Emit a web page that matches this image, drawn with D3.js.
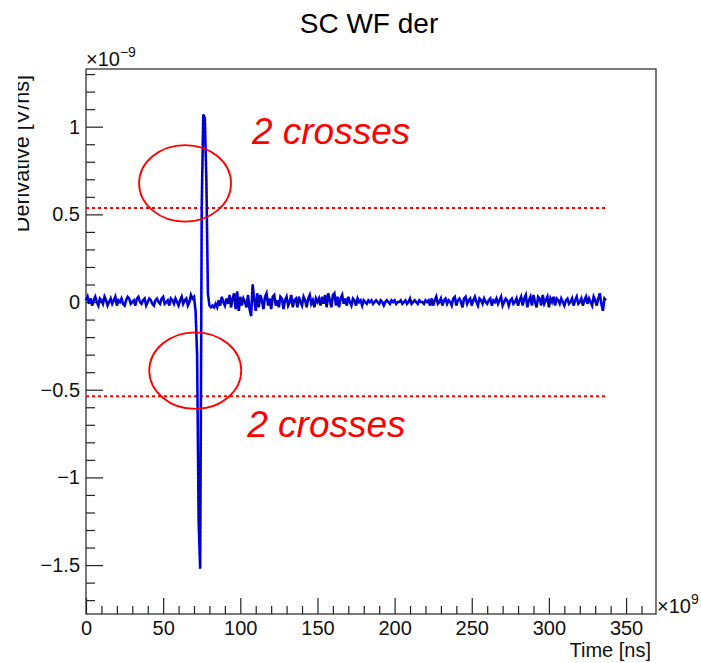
<!DOCTYPE html>
<html>
<head>
<meta charset="utf-8">
<script src="https://cdn.jsdelivr.net/npm/d3@7/dist/d3.min.js"></script>
<style>
  html, body { margin: 0; padding: 0; background: #fff; }
  svg { display: block; }
  text { font-family: "Liberation Sans", Arial, Helvetica, sans-serif; }
</style>
</head>
<body>
<svg id="chart" width="701" height="663"></svg>
<script>
// Derivative of the SC waveform, sampled every 1 ns, in units of 1e-9 V/ns.
const sampleStepNs = 1;

// baseline before the pulse (t = 0 .. 71 ns)
const preNoise = [
  0.01, 0.03, -0.01, 0.02, -0.02, 0.01, 0.03, 0.00, -0.02, 0.02,
  0.01, -0.01, 0.03, 0.01, -0.02, 0.00, 0.02, -0.01, 0.01, 0.03,
  -0.02, 0.01, 0.00, 0.02, -0.01, -0.02, 0.01, 0.03, 0.02, -0.01,
  0.00, 0.01, -0.02, 0.02, 0.03, 0.00, -0.01, 0.01, 0.02, -0.02,
  0.00, 0.02, 0.01, -0.01, -0.02, 0.01, 0.02, 0.00, -0.01, 0.02,
  0.03, -0.01, 0.00, 0.01, -0.02, 0.02, 0.01, -0.01, 0.02, 0.00,
  -0.02, 0.01, 0.03, -0.01, 0.01, 0.02, -0.02, 0.00, 0.04, 0.02,
  0.03, -0.05
];

// the pulse edge (t = 72 .. 78 ns)
const pulse = [-0.30, -1.25, -1.52, 0.54, 1.07, 1.05, 0.70];

// ringing and baseline after the pulse (t = 79 .. 337 ns)
const postNoise = [
  0.05, -0.02, -0.03, -0.02, -0.03, -0.01, -0.03, 0.01, -0.02, 0.03,
  0.00, -0.02, 0.02, -0.01, 0.04, -0.03, 0.02, 0.05, -0.04, 0.06,
  -0.05, 0.03, -0.02, 0.02, 0.00, -0.03, 0.04, -0.04, -0.08, 0.10,
  0.02, -0.05, 0.05, -0.03, 0.04, 0.01, -0.04, 0.03, 0.05, -0.02,
  0.02, -0.04, 0.03, 0.04, -0.02, 0.01, -0.03, 0.03, 0.02, -0.04,
  0.01, 0.03, -0.02, 0.00, 0.04, -0.03, 0.01, 0.02, -0.03, 0.03,
  0.00, -0.02, 0.03, 0.01, -0.03, 0.02, 0.04, -0.01, 0.01, -0.03,
  0.02, 0.00,
  0.02, -0.02, 0.03, -0.01, 0.04, -0.03, 0.05, 0.01, -0.03, 0.04,
  0.05, -0.02, 0.03, -0.03, 0.02, 0.04, -0.01, 0.02, -0.02, 0.03,
  0.00, -0.02, 0.02, 0.01, -0.02, 0.02, 0.00, 0.01, -0.02, 0.01,
  0.00, -0.01, 0.01, 0.00,
  0.01, -0.01, 0.00, 0.01, 0.00, -0.01, 0.01, 0.00, -0.02, 0.00,
  0.01, 0.00, -0.01, 0.01, 0.00, 0.01, -0.01, 0.00, 0.00, 0.01,
  -0.01, 0.00, 0.01, -0.01, 0.00, 0.02, -0.01, 0.00, 0.01, 0.00,
  -0.01, 0.01, 0.00, 0.00, -0.01, 0.01, 0.00, 0.01, -0.02,
  0.02, -0.02, 0.01, 0.03, -0.01, 0.00, 0.02, -0.02, 0.01, 0.02,
  -0.01, 0.01, 0.00, -0.02, 0.02, 0.03, -0.02, 0.01, 0.02, 0.00,
  -0.03, 0.02, 0.03, -0.01, 0.01, 0.02, -0.02, 0.01, 0.03, 0.00,
  -0.02, 0.02, 0.01, -0.01, 0.02, 0.00, -0.01, 0.01, 0.02, -0.02,
  0.01, 0.00, 0.02, -0.01, 0.01, 0.03, -0.02, 0.00, 0.02, 0.01,
  -0.02, 0.01, 0.02, -0.01, 0.00, 0.02, -0.02, 0.01,
  0.03, -0.02, 0.02, 0.04, -0.03, 0.01, 0.03, -0.02, 0.04, 0.00,
  -0.03, 0.03, 0.02, -0.02, 0.04, -0.01, 0.01, 0.03, -0.03, 0.02,
  0.00, 0.03, -0.02, 0.02, 0.01, -0.01, 0.02, 0.00, -0.02, 0.01,
  0.02, -0.01, 0.00, 0.02, -0.02, 0.01, 0.03, -0.01, 0.00,
  0.02, -0.02, 0.01, 0.03, -0.01, 0.02, 0.00, -0.02, 0.03, 0.01,
  -0.02, 0.02, 0.05, -0.01, -0.05, 0.02, 0.01
];

// discriminator thresholds (1e-9 V/ns)
const thresholds = [0.537, -0.537];

// axis ticks
const xMajorTicks = [0, 50, 100, 150, 200, 250, 300, 350];
const yMajorTicks = [-1.5, -1, -0.5, 0, 0.5, 1];

// annotations: where the thresholds are crossed
const crossMarks = [
  { t: 64.2, v: 0.677, label: "2 crosses", labelT: 107.5, labelV: 0.90 },
  { t: 70.8, v: -0.391, label: "2 crosses", labelT: 104.5, labelV: -0.77 }
];

const samples = preNoise.concat(pulse, postNoise)
  .map((v, i) => ({ t: i * sampleStepNs, v }));

const frame = { left: 86, top: 69, right: 656, bottom: 614 };

const svg = d3.select("#chart");

const x = d3.scaleLinear().domain([0, 369.4]).range([frame.left, frame.right]);
const y = d3.scaleLinear().domain([-1.779, 1.329]).range([frame.bottom, frame.top]);

const xMinor = d3.range(0, 370, 10).filter(v => v % 50 !== 0);
const yMinor = d3.range(-17, 14).map(k => k / 10).filter(v => Math.abs(Math.round(v * 10) % 5) !== 0);

const fmt = v => (v < 0 ? "\u2212" : "") + Math.abs(v);

// x axis (ticks point into the frame)
const gx = svg.append("g").attr("transform", `translate(0,${frame.bottom})`);
gx.call(d3.axisBottom(x).tickValues(xMajorTicks).tickSize(-16).tickPadding(7).tickFormat(fmt));
gx.append("g").call(d3.axisBottom(x).tickValues(xMinor).tickSize(-8).tickFormat(""));
gx.selectAll(".domain").remove();

const gy = svg.append("g").attr("transform", `translate(${frame.left},0)`);
gy.call(d3.axisLeft(y).tickValues(yMajorTicks).tickSize(-17).tickPadding(6).tickFormat(fmt));
gy.append("g").call(d3.axisLeft(y).tickValues(yMinor).tickSize(-9).tickFormat(""));
gy.selectAll(".domain").remove();

svg.selectAll(".tick line").attr("stroke", "#222").attr("stroke-width", 1.2);
svg.selectAll(".tick text")
  .attr("fill", "#111")
  .style("font-size", "20px")
  .style("font-family", "'Liberation Sans', Arial, sans-serif");

// frame
svg.append("rect")
  .attr("x", frame.left).attr("y", frame.top)
  .attr("width", frame.right - frame.left).attr("height", frame.bottom - frame.top)
  .attr("fill", "none").attr("stroke", "#222").attr("stroke-width", 1.2);

// threshold lines over the sampled range
const tEnd = samples[samples.length - 1].t;
svg.selectAll(".thr").data(thresholds).join("line")
  .attr("class", "thr")
  .attr("x1", x(0)).attr("x2", x(tEnd))
  .attr("y1", d => y(d)).attr("y2", d => y(d))
  .attr("stroke", "#ff0000").attr("stroke-width", 2)
  .attr("stroke-dasharray", "3,3");

// waveform: thick blue trace with a fine dark dotted core
const line = d3.line().x(d => x(d.t)).y(d => y(d.v));
svg.append("path").datum(samples)
  .attr("d", line)
  .attr("fill", "none")
  .attr("stroke", "#0000ff")
  .attr("stroke-width", 2.6)
  .attr("stroke-linejoin", "miter");

svg.append("path").datum(samples)
  .attr("d", line)
  .attr("fill", "none")
  .attr("stroke", "#000")
  .attr("stroke-width", 1)
  .attr("stroke-dasharray", "1.5,2.5");

// crossing annotations
svg.selectAll(".mark").data(crossMarks).join("ellipse")
  .attr("class", "mark")
  .attr("cx", d => x(d.t)).attr("cy", d => y(d.v))
  .attr("rx", 46).attr("ry", 38.3)
  .attr("fill", "none").attr("stroke", "#ff0000").attr("stroke-width", 1.8);

svg.selectAll(".marklabel").data(crossMarks).join("text")
  .attr("class", "marklabel")
  .attr("x", d => x(d.labelT)).attr("y", d => y(d.labelV))
  .attr("fill", "#ff0000")
  .style("font-size", "37px").style("font-style", "italic")
  .text(d => d.label);

// title
svg.append("text")
  .attr("x", 369).attr("y", 33).attr("text-anchor", "middle")
  .style("font-size", "28px").attr("fill", "#000")
  .text("SC WF der");

// axis titles
svg.append("text")
  .attr("x", 651).attr("y", 657).attr("text-anchor", "end")
  .style("font-size", "20px").attr("fill", "#111")
  .text("Time [ns]");

svg.append("defs").append("clipPath").attr("id", "ytitle-clip")
  .append("rect").attr("x", 18).attr("y", 0).attr("width", 60).attr("height", 300);

svg.append("g")
  .attr("clip-path", "url(#ytitle-clip)")
  .append("text")
  .attr("transform", "translate(29,75) rotate(-90)")
  .attr("text-anchor", "end")
  .style("font-size", "21.6px").attr("fill", "#111")
  .text("Derivative [V/ns]");

// exponent labels
const yExp = svg.append("text").attr("x", 86).attr("y", 66).style("font-size", "20px").attr("fill", "#111");
yExp.append("tspan").text("\u00d710");
yExp.append("tspan").attr("dy", -9).style("font-size", "14px").text("\u22129");

const xExp = svg.append("text").attr("x", 657).attr("y", 613).style("font-size", "20px").attr("fill", "#111");
xExp.append("tspan").text("\u00d710");
xExp.append("tspan").attr("dy", -9).style("font-size", "14px").text("9");
</script>
</body>
</html>
